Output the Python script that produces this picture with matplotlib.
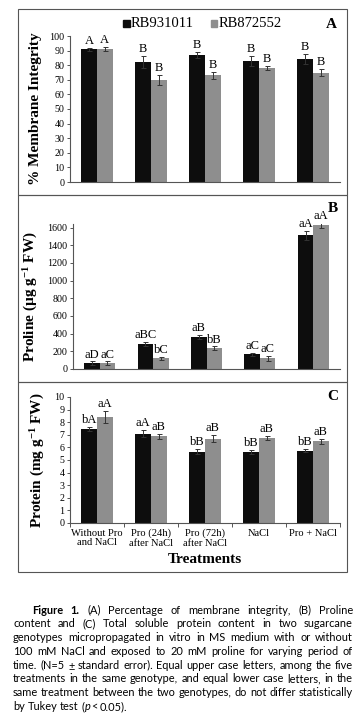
import numpy as np
import matplotlib
matplotlib.use('Agg')
import matplotlib.pyplot as plt
from matplotlib.patches import Rectangle

treatments = ['Without Pro\nand NaCl', 'Pro (24h)\nafter NaCl', 'Pro (72h)\nafter NaCl', 'NaCl', 'Pro + NaCl']
genotypes = ['RB931011', 'RB872552']

# Panel A - membrane integrity (%)
mem_rb931 = [91, 82, 87, 83, 84]
mem_rb872 = [91, 70, 73, 78, 75]
mem_err931 = [1, 4, 2, 3.5, 3.5]
mem_err872 = [1.5, 3.5, 2.5, 1.5, 2.5]
mem_lab931 = ['A', 'B', 'B', 'B', 'B']
mem_lab872 = ['A', 'B', 'B', 'B', 'B']

# Panel B - proline (ug g-1 FW)
pro_rb931 = [65, 280, 360, 165, 1510]
pro_rb872 = [65, 120, 235, 120, 1625]
pro_err931 = [20, 25, 25, 20, 50]
pro_err872 = [20, 20, 20, 25, 25]
pro_lab931 = ['aD', 'aBC', 'aB', 'aC', 'aA']
pro_lab872 = ['aC', 'bC', 'bB', 'aC', 'aA']

# Panel C - protein (mg g-1 FW)
prot_rb931 = [7.45, 7.1, 5.65, 5.65, 5.75]
prot_rb872 = [8.4, 6.9, 6.7, 6.75, 6.5]
prot_err931 = [0.15, 0.25, 0.2, 0.15, 0.15]
prot_err872 = [0.5, 0.2, 0.3, 0.15, 0.2]
prot_lab931 = ['bA', 'aA', 'bB', 'bB', 'bB']
prot_lab872 = ['aA', 'aB', 'aB', 'aB', 'aB']

plt.rcParams['mathtext.fontset'] = 'custom'
plt.rcParams['mathtext.rm'] = 'Liberation Serif:bold'
plt.rcParams['mathtext.it'] = 'Liberation Serif:italic:bold'
plt.rcParams['mathtext.bf'] = 'Liberation Serif:bold'

W, H = 359, 717
fig = plt.figure(figsize=(W / 100, H / 100), dpi=100)
fig.patch.set_facecolor('white')

SERIF = ['Liberation Serif', 'DejaVu Serif']
BLACK = '#0d0d0d'
GRAY = '#8e8e8e'
EDGE = '#555555'


def px_axes(x0, y0, x1, y1):
    # pixel box (top-left origin) -> figure axes
    return fig.add_axes([x0 / W, 1 - y1 / H, (x1 - x0) / W, (y1 - y0) / H])


# panel frames
for (t, b) in [(9, 195), (195, 382), (382, 572)]:
    fig.add_artist(Rectangle((18 / W, 1 - b / H), (347 - 18) / W, (b - t) / H,
                             transform=fig.transFigure, fill=False,
                             edgecolor=EDGE, lw=0.8))


def bar_panel(ax, v1, v2, e1, e2, l1, l2, ymax, yticks, lab_off):
    x = np.arange(len(v1))
    w = 0.29
    ekw = dict(ecolor='#333333', elinewidth=0.7, capsize=1.8, capthick=0.7)
    ax.bar(x - w / 2, v1, w, color=BLACK, yerr=e1, error_kw=ekw)
    ax.bar(x + w / 2, v2, w, color=GRAY, yerr=e2, error_kw=ekw)
    for i in range(len(v1)):
        ax.text(x[i] - w / 2, v1[i] + e1[i] + lab_off, l1[i], ha='center', va='bottom',
                family=SERIF, fontsize=9)
        ax.text(x[i] + w / 2, v2[i] + e2[i] + lab_off, l2[i], ha='center', va='bottom',
                family=SERIF, fontsize=9)
    ax.set_xlim(-0.5, len(v1) - 0.5)
    ax.set_ylim(0, ymax)
    ax.set_yticks(yticks)
    ax.set_yticklabels([str(t) for t in yticks], family=SERIF, fontsize=7.2)
    ax.spines[['top', 'right']].set_visible(False)
    for s in ['left', 'bottom']:
        ax.spines[s].set_color(EDGE)
        ax.spines[s].set_linewidth(0.8)
    ax.tick_params(axis='y', length=2.5, width=0.7, color=EDGE, pad=1.5)
    ax.set_facecolor('none')
    return ax


# Panel A
axA = px_axes(70, 36, 340, 182)
bar_panel(axA, mem_rb931, mem_rb872, mem_err931, mem_err872, mem_lab931, mem_lab872,
          100, list(range(0, 101, 10)), 0.8)
axA.set_xticks([])
axA.set_ylabel('% Membrane Integrity', family=SERIF, fontsize=11, fontweight='bold', labelpad=5)
fig.text(331 / W, 1 - 24 / H, 'A', family=SERIF, fontsize=11, fontweight='bold', ha='center', va='center')
# legend
for name, col, xs in [(genotypes[0], BLACK, 123), (genotypes[1], GRAY, 211)]:
    fig.add_artist(Rectangle((xs / W, 1 - 27 / H), 6.5 / W, 6.5 / H, transform=fig.transFigure, color=col))
    fig.text((xs + 8) / W, 1 - 23.5 / H, name, family=SERIF, fontsize=10.5, va='center', ha='left')

# Panel B
axB = px_axes(73, 224, 340, 369)
bar_panel(axB, pro_rb931, pro_rb872, pro_err931, pro_err872, pro_lab931, pro_lab872,
          1640, list(range(0, 1601, 200)), 10)
axB.set_xticks([])
axB.set_ylabel('Proline (µg g$^{-1}$ FW)', family=SERIF, fontsize=11, fontweight='bold', labelpad=5)
fig.text(333 / W, 1 - 208 / H, 'B', family=SERIF, fontsize=11, fontweight='bold', ha='center', va='center')

# Panel C
axC = px_axes(70, 397, 340, 523)
bar_panel(axC, prot_rb931, prot_rb872, prot_err931, prot_err872, prot_lab931, prot_lab872,
          10, list(range(0, 11)), 0.08)
axC.set_xticks(np.arange(-0.5, 5, 1.0), minor=False)
axC.set_xticklabels([''] * 6)
axC.set_xticks(np.arange(5), minor=True)
axC.set_xticklabels(treatments, minor=True, family=SERIF, fontsize=7.6, linespacing=1.05)
axC.tick_params(axis='x', which='major', length=3, width=0.7, color=EDGE)
axC.tick_params(axis='x', which='minor', length=0, pad=4)
axC.set_xlabel('Treatments', family=SERIF, fontsize=11, fontweight='bold', labelpad=4)
axC.set_ylabel('Protein (mg g$^{-1}$ FW)', family=SERIF, fontsize=11, fontweight='bold', labelpad=5)
fig.text(333 / W, 1 - 396 / H, 'C', family=SERIF, fontsize=11, fontweight='bold', ha='center', va='center')

# Caption (justified)
CAP = ['Lato', 'DejaVu Sans']
cap_lines = [
    'Figure 1. (A) Percentage of membrane integrity, (B) Proline',
    'content and (C) Total soluble protein content in two sugarcane',
    'genotypes micropropagated in vitro in MS medium with or without',
    '100 mM NaCl and exposed to 20 mM proline for varying period of',
    'time. (N=5 ± standard error). Equal upper case letters, among the five',
    'treatments in the same genotype, and equal lower case letters, in the',
    'same treatment between the two genotypes, do not differ statistically',
    'by Tukey test (p< 0.05).',
]
fig.canvas.draw()
renderer = fig.canvas.get_renderer()
left, right = 13, 353
top = 610
lh = 13.8
indent = 19


def word_width(w, size, bold=False, italic=False):
    t = fig.text(0, 0, w, family=CAP, fontsize=size, fontweight='bold' if bold else 'normal',
                 style='italic' if italic else 'normal')
    bb = t.get_window_extent(renderer)
    t.remove()
    return bb.width


# font size so the widest line just fits the text block
ref = 10
widest = max(word_width(l, ref) + (indent if i == 0 else 0) for i, l in enumerate(cap_lines[:-1]))
fs = ref * (right - left) / widest * 0.99

space = word_width('a a', fs) - word_width('aa', fs)
for li, line in enumerate(cap_lines):
    words = line.split(' ')
    x0 = left + (indent if li == 0 else 0)
    y = top + li * lh
    bolds = [li == 0 and k < 2 for k in range(len(words))]
    widths = [word_width(w, fs, b) for w, b in zip(words, bolds)]
    if li == len(cap_lines) - 1:
        gap = space
    else:
        gap = (right - x0 - sum(widths)) / (len(words) - 1)
    x = x0
    for w, b, ww in zip(words, bolds, widths):
        if w == '(p<':
            fig.text(x / W, 1 - y / H, '(', family=CAP, fontsize=fs, va='center', ha='left')
            wp = word_width('(', fs)
            fig.text((x + wp) / W, 1 - y / H, 'p', family=CAP, fontsize=fs, style='italic', va='center', ha='left')
            wi = word_width('p', fs, italic=True)
            fig.text((x + wp + wi) / W, 1 - y / H, '<', family=CAP, fontsize=fs, va='center', ha='left')
        else:
            fig.text(x / W, 1 - y / H, w, family=CAP, fontsize=fs, va='center', ha='left',
                     fontweight='bold' if b else 'normal')
        x += ww + gap

fig.savefig('out.png', dpi=100, facecolor='white')
